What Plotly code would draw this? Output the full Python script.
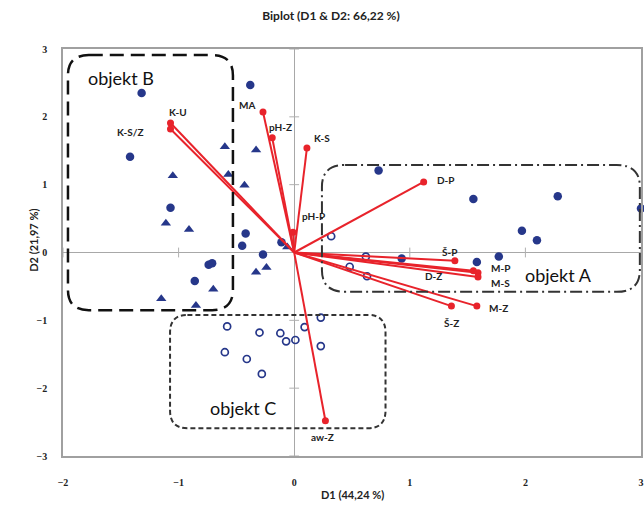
import plotly.graph_objects as go

# ---- data ----
vec_names = ["K-U", "K-S/Z", "MA", "pH-Z", "K-S", "pH-P", "D-P", "Š-P", "M-P", "M-S", "D-Z", "Š-Z", "M-Z", "aw-Z"]
vec_x = [-1.07, -1.07, -0.27, -0.19, 0.11, -0.01, 1.12, 1.39, 1.59, 1.59, 1.55, 1.36, 1.58, 0.27]
vec_y = [1.91, 1.82, 2.07, 1.69, 1.54, 0.30, 1.04, -0.12, -0.30, -0.36, -0.27, -0.79, -0.79, -2.48]
# label offsets in pixels (dx, dy) relative to vector tip
lab_dx = [7, -40, -16, 8, 15, 20, 22, -5, 22, 22, -40, 0, 22, -3]
lab_dy = [11, -3, 7, 11, 10, 16, 2, 9, 5, -6, -5, -17, -2, -16]

circ_x = [-1.32, -0.38, -1.42, -1.07, -0.42, -0.45, -0.11, -0.27, -0.74, -0.71, -0.86,
          0.73, 1.55, 2.28, 3.0, 1.97, 2.10, 0.93, 1.58, 1.77]
circ_y = [2.35, 2.47, 1.41, 0.66, 0.28, 0.10, 0.15, -0.03, -0.18, -0.16, -0.42,
          1.21, 0.79, 0.83, 0.65, 0.32, 0.18, -0.09, -0.14, -0.06]

tri_x = [-0.60, -0.33, -1.05, -0.57, -0.43, -1.11, -0.91, -0.33, -0.24, -0.70, -1.15, -0.85, -0.06]
tri_y = [1.56, 1.51, 1.13, 1.15, 0.99, 0.43, 0.34, -0.29, -0.22, -0.54, -0.68, -0.78, 0.08]

open_x = [0.32, 0.62, 0.48, 0.63, -0.58, -0.30, -0.12, -0.07, 0.01, 0.09, 0.23, 0.23, -0.60, -0.41, -0.28]
open_y = [0.24, -0.06, -0.21, -0.35, -1.09, -1.18, -1.19, -1.31, -1.29, -1.10, -0.96, -1.38, -1.47, -1.57, -1.79]

x_ticks = [-2, -1, 0, 1, 2, 3]
y_ticks = [-3, -2, -1, 0, 1, 2, 3]

NAVY = "#26378a"
RED = "#e8232b"

fig = go.Figure()

# small tick marks on zero lines
fig.add_trace(go.Scatter(x=[t for t in x_ticks if t != 0], y=[0] * 5, mode="markers",
                         marker=dict(symbol="line-ns", size=7, line=dict(color="#b0b0b0", width=1)),
                         hoverinfo="skip"))
fig.add_trace(go.Scatter(x=[0] * 6, y=[t for t in y_ticks if t != 0], mode="markers",
                         marker=dict(symbol="line-ew", size=7, line=dict(color="#b0b0b0", width=1)),
                         hoverinfo="skip"))

# observations
fig.add_trace(go.Scatter(x=circ_x, y=circ_y, mode="markers", cliponaxis=False,
                         marker=dict(symbol="circle", size=8.5, color=NAVY)))
fig.add_trace(go.Scatter(x=tri_x, y=tri_y, mode="markers",
                         marker=dict(symbol="triangle-up", size=9, color=NAVY)))
fig.add_trace(go.Scatter(x=open_x, y=open_y, mode="markers",
                         marker=dict(symbol="circle-open", size=7, color=NAVY, line=dict(width=1.7))))

# vectors
lx, ly = [], []
for vx, vy in zip(vec_x, vec_y):
    lx += [0, vx, None]
    ly += [0, vy, None]
fig.add_trace(go.Scatter(x=lx, y=ly, mode="lines", line=dict(color=RED, width=2), hoverinfo="skip"))
fig.add_trace(go.Scatter(x=vec_x, y=vec_y, mode="markers", marker=dict(size=7, color=RED)))

for n, vx, vy, dx, dy in zip(vec_names, vec_x, vec_y, lab_dx, lab_dy):
    fig.add_annotation(x=vx, y=vy, text=n, showarrow=False, xshift=dx, yshift=dy,
                       font=dict(family="Lato", size=10, color="#222222", weight="bold"))


def rrect(x0, x1, y0, y1, rx, ry):
    return (f"M {x0+rx},{y1} L {x1-rx},{y1} Q {x1},{y1} {x1},{y1-ry} "
            f"L {x1},{y0+ry} Q {x1},{y0} {x1-rx},{y0} L {x0+rx},{y0} "
            f"Q {x0},{y0} {x0},{y0+ry} L {x0},{y1-ry} Q {x0},{y1} {x0+rx},{y1} Z")


fig.add_shape(type="path", path=rrect(-1.957, -0.53, -0.85, 2.91, 0.18, 0.30),
              line=dict(color="#111111", width=2.5, dash="14px,7px"))
fig.add_shape(type="path", path=rrect(0.24, 2.99, -0.58, 1.29, 0.2, 0.32),
              line=dict(color="#333333", width=2, dash="12px,4px,2px,4px"))
fig.add_shape(type="path", path=rrect(-1.074, 0.79, -2.59, -0.92, 0.15, 0.26),
              line=dict(color="#333333", width=2, dash="5px,3px"))

for txt, x, y in [("objekt B", -1.50, 2.57), ("objekt A", 2.29, -0.33), ("objekt C", -0.44, -2.29)]:
    fig.add_annotation(x=x, y=y, text=txt, showarrow=False,
                       font=dict(family="Lato", size=18, color="#111111"))

axis_common = dict(showgrid=False, zeroline=True, zerolinecolor="#a8a8a8", zerolinewidth=1,
                   showline=True, linecolor="#a0a0a0", linewidth=1.5, mirror=True, ticks="",
                   automargin=False, ticklabeloverflow="allow",
                   tickfont=dict(family="Liberation Serif", size=10, color="#222222", weight="bold"))

fig.update_xaxes(range=[-2, 3], tickvals=x_ticks, ticklabelstandoff=16, **axis_common)
fig.update_yaxes(range=[-3, 3], tickvals=y_ticks, ticklabelstandoff=12, **axis_common)

fig.add_annotation(xref="paper", yref="paper", x=0.5, y=0, yshift=-47, text="D1 (44,24 %)",
                   showarrow=False, font=dict(family="Lato", size=11, color="#222222", weight="bold"))
fig.add_annotation(xref="paper", yref="paper", x=0, y=0.53, xshift=-38, text="D2 (21,97 %)",
                   textangle=-90, showarrow=False,
                   font=dict(family="Lato", size=11, color="#222222", weight="bold"))

fig.update_layout(
    width=644, height=513,
    margin=dict(l=63, r=3, t=49, b=57, autoexpand=False),
    paper_bgcolor="white", plot_bgcolor="white",
    showlegend=False,
    title=dict(text="Biplot (D1 & D2: 66,22 %)", x=0.514, xanchor="center", y=0.969, yanchor="middle",
               font=dict(family="Lato", size=12, color="#222222", weight="bold")),
)

# remove the page's default body margin so the figure fills the 644x513 window exactly
fig.write_html("out.html", config={"displayModeBar": False},
               post_script="document.body.style.margin='0';document.body.style.overflow='hidden';")
